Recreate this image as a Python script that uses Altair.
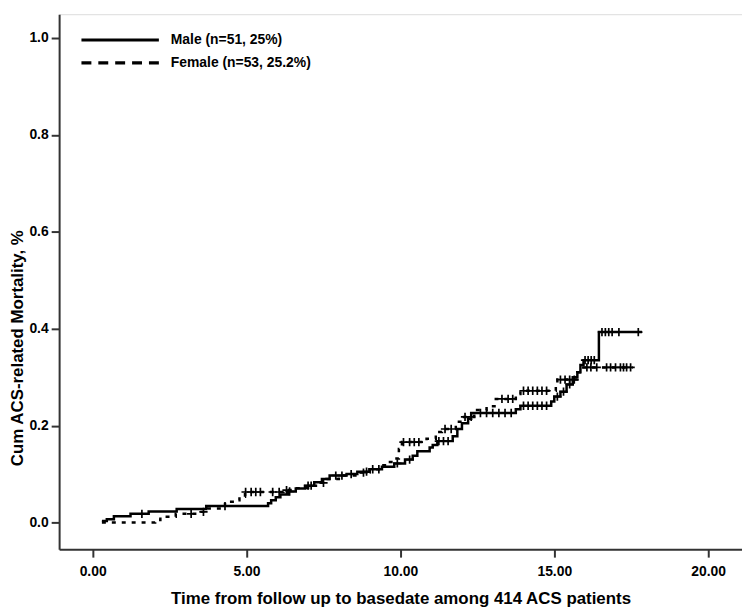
import altair as alt
import numpy as np
import pandas as pd

MALE = "Male (n=51, 25%)"
FEMALE = "Female (n=53, 25.2%)"

# Kaplan-Meier style cumulative mortality steps (time, cumulative value)
male_t = [0.30, 0.46, 0.69, 1.23, 1.82, 2.73, 3.69, 5.70, 5.80, 5.95, 6.10, 6.35, 6.60,
          6.90, 7.20, 7.45, 7.70, 8.25, 8.60, 9.00, 9.40, 9.80, 10.15, 10.40, 10.55, 10.95,
          11.05, 11.20, 11.70, 11.85, 12.00, 12.20, 12.30, 13.75, 13.90, 14.90, 15.00,
          15.20, 15.40, 15.60, 15.75, 15.85, 15.95, 16.45, 17.85]
male_y = [0.003, 0.007, 0.013, 0.018, 0.023, 0.028, 0.034, 0.040, 0.046, 0.052, 0.058, 0.064, 0.070,
          0.076, 0.083, 0.090, 0.097, 0.100, 0.105, 0.110, 0.115, 0.122, 0.130, 0.138, 0.147, 0.155,
          0.160, 0.168, 0.178, 0.193, 0.205, 0.214, 0.226, 0.234, 0.241, 0.250, 0.260,
          0.270, 0.285, 0.300, 0.310, 0.325, 0.335, 0.393, 0.393]

female_t = [0.30, 2.03, 2.20, 2.70, 3.40, 3.75, 4.30, 4.60, 4.77, 4.95, 6.20, 6.50, 7.00,
            7.30, 7.60, 8.00, 8.60, 9.00, 9.30, 9.60, 9.75, 9.95, 10.05, 10.85, 11.15, 11.35,
            11.80, 12.00, 12.40, 12.80, 13.10, 13.75, 13.90, 15.05, 15.10, 15.75, 15.90, 17.55]
female_y = [0.000, 0.005, 0.012, 0.018, 0.022, 0.029, 0.043, 0.046, 0.053, 0.063, 0.067, 0.071, 0.076,
            0.082, 0.090, 0.097, 0.103, 0.110, 0.118, 0.125, 0.132, 0.152, 0.166, 0.173, 0.187, 0.193,
            0.208, 0.218, 0.232, 0.240, 0.255, 0.265, 0.272, 0.285, 0.295, 0.310, 0.320, 0.320]

# censoring times
male_c = [1.60, 4.30, 6.40, 7.00, 7.90, 8.40, 8.90, 9.30, 9.90, 10.30, 11.25, 11.40, 11.55,
          12.60, 12.80, 13.00, 13.20, 13.40, 13.60, 14.00, 14.15, 14.30, 14.45, 14.60, 14.75,
          15.10, 15.30, 15.50, 16.00, 16.10, 16.20, 16.30, 16.55, 16.66, 16.77, 16.88, 17.10, 17.73]
female_c = [3.20, 3.60, 4.97, 5.15, 5.30, 5.45, 5.85, 6.06, 6.30, 7.10, 7.50, 8.10, 8.80, 9.10,
            10.10, 10.30, 10.45, 10.60, 11.45, 11.65, 12.10, 12.30, 13.30, 13.50, 13.65, 14.00,
            14.15, 14.30, 14.45, 14.60, 14.75, 15.20, 15.35, 15.50, 15.65, 16.06, 16.19, 16.38,
            16.70, 16.83, 16.99, 17.15, 17.25, 17.35, 17.48]

x_ticks = [0, 5, 10, 15, 20]
y_ticks = [0.0, 0.2, 0.4, 0.6, 0.8, 1.0]


def step_at(ts, ys, c):
    i = int(np.searchsorted(ts, c, side="right")) - 1
    return ys[max(i, 0)]


male_df = pd.DataFrame({"t": male_t, "v": male_y})
female_df = pd.DataFrame({"t": female_t, "v": female_y})
cens = pd.concat([
    pd.DataFrame({"t": male_c, "v": [step_at(male_t, male_y, c) for c in male_c]}),
    pd.DataFrame({"t": female_c, "v": [step_at(female_t, female_y, c) for c in female_c]}),
])
legend_df = pd.DataFrame({"group": [MALE, FEMALE]})

FONT = "Liberation Sans"
xs = alt.Scale(domain=[-1.09, 21.1], nice=False, zero=False)
ys = alt.Scale(domain=[-0.055, 1.049], nice=False, zero=False)

x_axis = alt.Axis(values=x_ticks, format=".2f", title="Time from follow up  to basedate among 414 ACS patients",
                  grid=False, tickSize=8, tickWidth=2, tickColor="#333", domainColor="#333", domainWidth=2,
                  labelFont=FONT, labelFontWeight="bold", labelFontSize=14, labelColor="black", labelPadding=8,
                  titleFont=FONT, titleFontWeight="bold", titleFontSize=17, titleColor="black",
                  titleBaseline="middle", titleY=50)
y_axis = alt.Axis(values=y_ticks, format=".1f", title="Cum ACS-related Mortality, %",
                  grid=False, tickSize=8, tickWidth=2, tickColor="#333", domainColor="#333", domainWidth=2,
                  labelFont=FONT, labelFontWeight="bold", labelFontSize=14, labelColor="black", labelPadding=3,
                  titleFont=FONT, titleFontWeight="bold", titleFontSize=17, titleColor="black",
                  titleAngle=270, titleAlign="center", titleBaseline="middle", titleX=-41.5, titleY=336)

male_layer = alt.Chart(male_df).mark_line(interpolate="step-after", color="black", strokeWidth=2.5).encode(
    x=alt.X("t:Q", scale=xs, axis=x_axis),
    y=alt.Y("v:Q", scale=ys, axis=y_axis),
)
female_layer = alt.Chart(female_df).mark_line(interpolate="step-after", color="black", strokeWidth=2.5,
                                              strokeDash=[4, 6]).encode(
    x=alt.X("t:Q", scale=xs),
    y=alt.Y("v:Q", scale=ys),
)
cens_layer = alt.Chart(cens).mark_point(shape="M-1,0H1M0,-1V1", size=70, filled=False,
                                        color="black", strokeWidth=1.7, opacity=1).encode(
    x=alt.X("t:Q", scale=xs),
    y=alt.Y("v:Q", scale=ys),
)
legend_layer = alt.Chart(legend_df).mark_line(color="black", strokeOpacity=0).encode(
    x=alt.value(0), y=alt.value(0),
    strokeDash=alt.StrokeDash("group:N",
                              scale=alt.Scale(domain=[MALE, FEMALE], range=[[1, 0], [10, 7]]),
                              legend=alt.Legend(title=None, orient="none", legendX=20.5, legendY=18,
                                                symbolType="stroke", symbolSize=6084, symbolStrokeWidth=3.2,
                                                symbolStrokeColor="black", symbolOpacity=1, clipHeight=16,
                                                labelFont=FONT, labelFontWeight="bold", labelFontSize=14,
                                                labelColor="black", labelOffset=10, rowPadding=7,
                                                padding=0)),
)

chart = alt.layer(male_layer, female_layer, cens_layer, legend_layer).properties(
    width=688, height=539,
    autosize=alt.AutoSizeParams(type="none"),
    padding={"left": 51.5, "top": 4, "right": 0, "bottom": 56},
).configure_view(stroke=None).configure(background="white")

chart.save("out.html", embed_options={"renderer": "svg", "actions": False})
